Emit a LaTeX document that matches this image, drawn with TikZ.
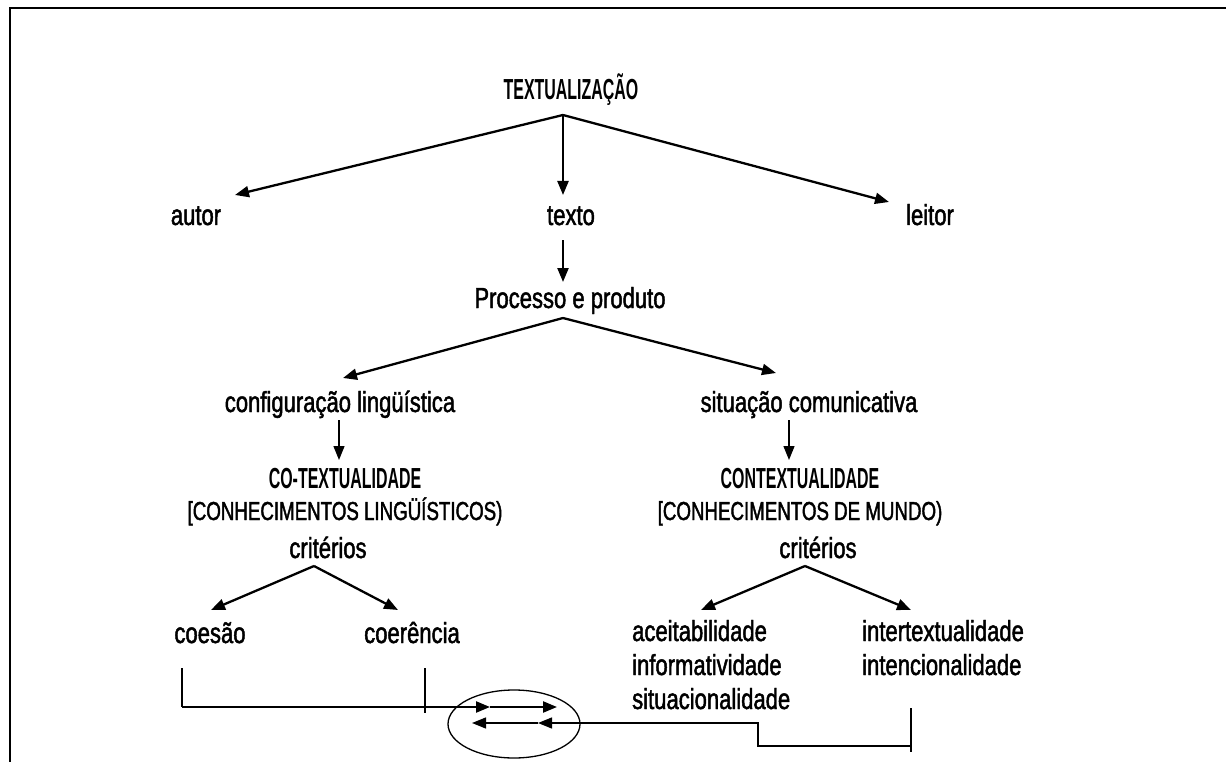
\documentclass[tikz,border=0pt]{standalone}
\usepackage{fontspec}
\setmainfont{Liberation Sans}[FakeStretch=0.76, FakeBold=1.6]
\newfontfamily\capsfont{Liberation Sans}[FakeStretch=0.55]
\newfontfamily\knowfont{Liberation Sans}[FakeStretch=0.72, FakeBold=1.6]
\usepackage{tikz}
\usetikzlibrary{arrows.meta}
\tikzset{
  lab/.style={inner sep=0pt, anchor=base, font=\fontsize{29}{34}\selectfont},
  listlab/.style={inner sep=0pt, anchor=base west, font=\fontsize{29}{34}\selectfont},
  head/.style={inner sep=0pt, anchor=base, font=\capsfont\bfseries\fontsize{29}{34}\selectfont},
  know/.style={inner sep=0pt, anchor=base, font=\knowfont\fontsize{26}{31}\selectfont},
  arr/.style={draw=black, line width=2.3pt, -{Triangle[length=14pt,width=11pt]}},
  tick/.style={draw=black, line width=1.3pt},
  frame/.style={draw=black, line width=2.6pt},
}

\begin{document}
\begin{tikzpicture}[x=1pt, y=-1pt]
  \useasboundingbox (0,0) rectangle (1226,762);

  % frame of the figure
  \draw[frame] (10,762) -- (10,8) -- (1226,8);

  % top level
  \node[head] (textu) at (571,100) {TEXTUALIZAÇÃO};
  \node[lab] (autor) at (196,225) {autor};
  \node[lab] (texto) at (571,225) {texto};
  \node[lab] (leitor) at (930,225) {leitor};
  \draw[arr] ([shift={(-8,15)}]textu.base) -- ([shift={(39,-30)}]autor.base);
  \draw[arr] ([shift={(-8,15)}]textu.base) -- ([shift={(-8,-30)}]texto.base);
  \draw[arr] ([shift={(-8,15)}]textu.base) -- ([shift={(-41,-23)}]leitor.base);

  % process and product
  \node[lab] (proc) at (570,308) {Processo e produto};
  \draw[arr] ([shift={(-8,15)}]texto.base) -- ([shift={(-7,-26)}]proc.base);

  \node[lab] (config) at (340,412) {configuração lingüística};
  \node[lab] (situ) at (809,412) {situação comunicativa};
  \draw[arr] ([shift={(-7,10)}]proc.base) -- ([shift={(3,-34)}]config.base);
  \draw[arr] ([shift={(-7,10)}]proc.base) -- ([shift={(-33,-39)}]situ.base);

  % the two kinds of knowledge
  \node[head] (cotext) at (345,488) {CO-TEXTUALIDADE};
  \node[know] (cotextb) at (345,520) {[CONHECIMENTOS LINGÜÍSTICOS)};
  \node[head] (context) at (800,488) {CONTEXTUALIDADE};
  \node[know] (contextb) at (800,520) {[CONHECIMENTOS DE MUNDO)};
  \draw[arr, line width=1.3pt] ([shift={(-1,8)}]config.base) -- ([shift={(-6,-28)}]cotext.base);
  \draw[arr, line width=1.3pt] ([shift={(-20,8)}]situ.base) -- ([shift={(-11,-28)}]context.base);

  % criteria
  \node[lab] (critA) at (328,558) {critérios};
  \node[lab] (critB) at (818,558) {critérios};
  \node[lab] (coesao) at (210,643) {coesão};
  \node[lab] (coer) at (412,643) {coerência};
  \node[listlab] (aceit) at (632,641) {aceitabilidade};
  \node[listlab] (inform) at (632,675) {informatividade};
  \node[listlab] (situac) at (632,709) {situacionalidade};
  \node[listlab] (inter) at (862,641) {intertextualidade};
  \node[listlab] (intenc) at (862,675) {intencionalidade};
  \draw[arr] ([shift={(-14,8)}]critA.base) -- ([shift={(1,-33)}]coesao.base);
  \draw[arr] ([shift={(-14,8)}]critA.base) -- ([shift={(-14,-33)}]coer.base);
  \draw[arr] ([shift={(-13,8)}]critB.base) -- ([shift={(69,-31)}]aceit.base west);
  \draw[arr] ([shift={(-13,8)}]critB.base) -- ([shift={(49,-31)}]inter.base west);

  % bracket below, with the circled arrows
  \coordinate (bA) at (182,668);
  \coordinate (bB) at (182,707);
  \coordinate (bM) at (490,707);
  \coordinate (bE) at (557,707);
  \draw[tick] (bA) -- (bB);
  \draw[arr] (bB) -- (bM);
  \draw[arr] (bM) -- (bE);
  \draw[tick] (425,668) -- (425,713);

  \coordinate (rA) at (911,708);
  \coordinate (rB) at (911,752);
  \coordinate (rM) at (538,723);
  \coordinate (rE) at (472,723);
  \draw[tick] (rA) -- (rB);
  \draw[arr, line width=1.3pt] (911,746) -- (758,746) -- (758,723) -- (rM);
  \draw[arr, line width=1.3pt] (rM) -- (rE);
  \draw[tick] (514,724) ellipse [x radius=66, y radius=34];
\end{tikzpicture}
\end{document}
